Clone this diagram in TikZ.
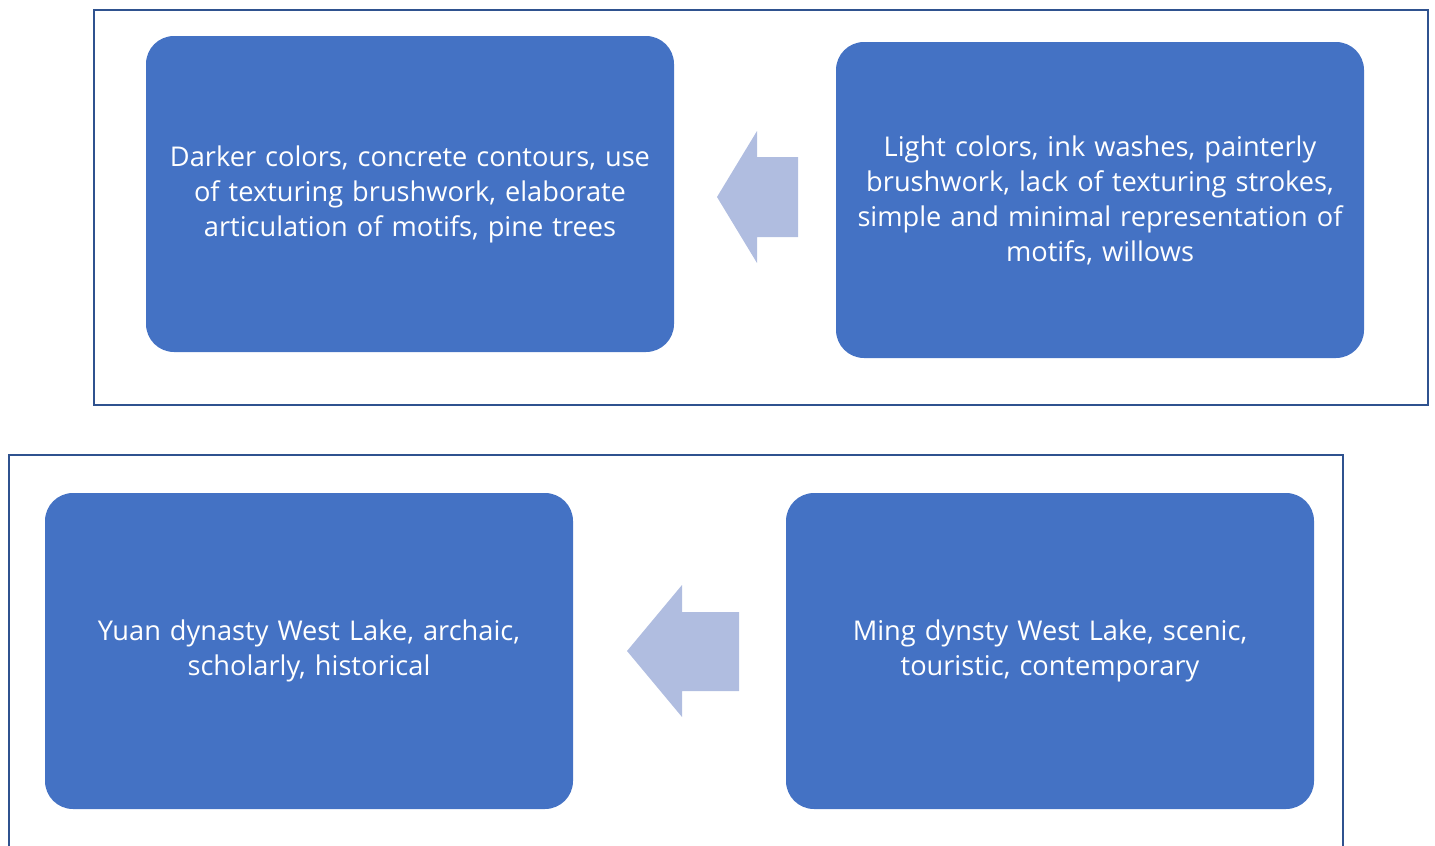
\documentclass[tikz,border=0pt]{standalone}
\usepackage{fontspec}
\setmainfont{Open Sans}
\definecolor{boxblue}{RGB}{68,114,196}
\definecolor{frameblue}{RGB}{47,82,143}
\definecolor{arrowblue}{RGB}{176,189,224}
\begin{document}
\begin{tikzpicture}[x=1pt,y=-1pt,
	frame/.style={draw=frameblue,line width=2pt},
	card/.style={rectangle,rounded corners=28pt,fill=boxblue,text=white,
		minimum width=528pt,minimum height=316pt,text width=515pt,align=center,
		font=\fontsize{27.2}{35}\selectfont},
	blockarrow/.style={fill=arrowblue}]
		\useasboundingbox (0,0) rectangle (1435,846);
		% frames
		\draw[frame] (94,10) rectangle (1428,405);
		\draw[frame] (9,846) -- (9,455) -- (1343,455) -- (1343,846);
		% top row
		\node[card] (dark) at (410,194) {Darker colors, concrete contours, use\\ of texturing brushwork, elaborate\\ articulation of motifs, pine trees};
		\node[card] (light) at (1100,200) {Light colors, ink washes, painterly\\ brushwork, lack of texturing strokes,\\ simple and minimal representation of\\ motifs, willows};
		% bottom row
		\node[card] (yuan) at (309,651) {Yuan dynasty West Lake, archaic,\\ scholarly, historical};
		\node[card] (ming) at (1050,651) {Ming dynsty West Lake, scenic,\\ touristic, contemporary};
		% block arrows
		\fill[blockarrow] (717,197) -- (757,131) -- (757,157) -- (798,157) -- (798,237) -- (757,237) -- (757,263) -- cycle;
		\fill[blockarrow] (627,651) -- (682,585) -- (682,612) -- (739,612) -- (739,691) -- (682,691) -- (682,717) -- cycle;
\end{tikzpicture}
\end{document}
